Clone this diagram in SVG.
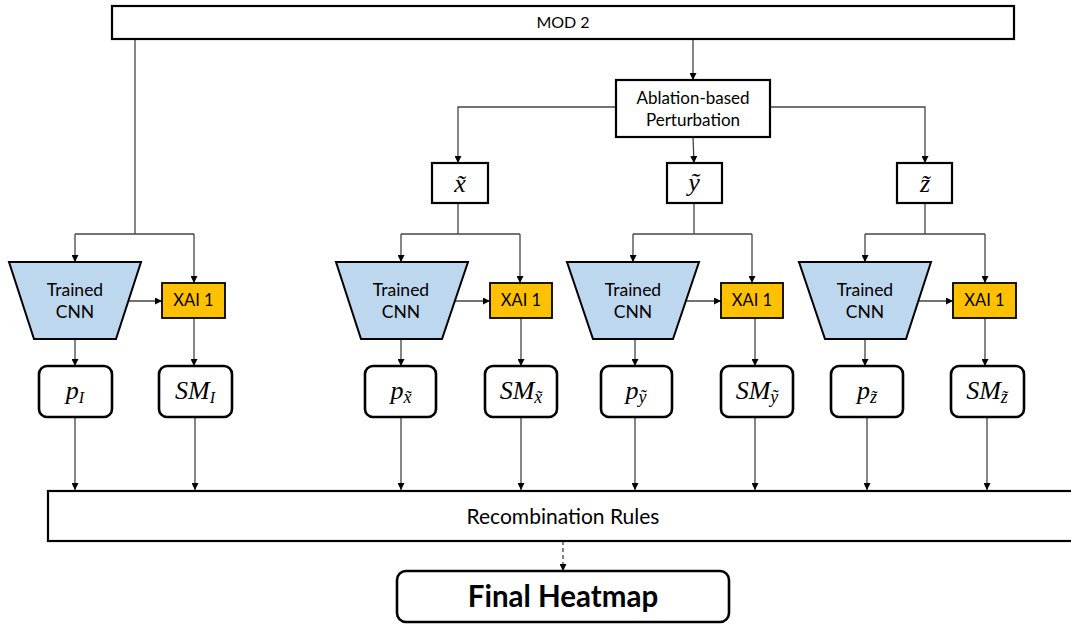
<svg xmlns="http://www.w3.org/2000/svg" width="1071" height="625" viewBox="0 0 1071 625">
<defs>
<marker id="ah" viewBox="0 0 10 10" refX="10" refY="5" markerWidth="7" markerHeight="7" markerUnits="userSpaceOnUse" orient="auto">
<path d="M0,0 L10,5 L0,10 z" fill="#000"/>
</marker>
<style>
.box{fill:#fff;stroke:#000;stroke-width:2.2}
.rbox{fill:#fff;stroke:#000;stroke-width:2.6}
.trap{fill:#BDD7EE;stroke:#000;stroke-width:2}
.xai{fill:#FFC000;stroke:#000;stroke-width:1.8}
.lbl{font-family:Lato,"Open Sans","Liberation Sans",sans-serif;fill:#000;text-anchor:middle}
.cnn{font-size:17.5px}
.math{font-family:"Liberation Serif","DejaVu Serif",serif;font-style:italic;fill:#000;text-anchor:middle;font-size:26px}
.sub{font-size:16px}
.subt{font-size:18px}
.c{fill:none;stroke:#444;stroke-width:1.3}
.a{fill:none;stroke:#444;stroke-width:1.3;marker-end:url(#ah)}
</style>
</defs>
<rect width="1071" height="625" fill="#fff"/>

<g id="connectors">
<path class="c" d="M135,39 V234"/>
<path class="c" d="M75,234 H194"/>
<path class="a" d="M75,234 V262"/>
<path class="a" d="M194,234 V283"/>
<path class="a" d="M693,39 V80"/>
<path class="a" d="M616,107 H458 V163"/>
<path class="a" d="M770,107 H925 V163"/>
<path class="a" d="M693,137 L694,163"/>
<path class="c" d="M458,203 V234"/>
<path class="c" d="M401,234 H520"/>
<path class="a" d="M401,234 V262"/>
<path class="a" d="M520,234 V283"/>
<path class="c" d="M694,203 V234"/>
<path class="c" d="M633,234 H752"/>
<path class="a" d="M633,234 V262"/>
<path class="a" d="M752,234 V283"/>
<path class="c" d="M925,203 V234"/>
<path class="c" d="M865,234 H985"/>
<path class="a" d="M865,234 V262"/>
<path class="a" d="M985,234 V283"/>
<path class="a" d="M129,301 H162"/>
<path class="a" d="M455,301 H490"/>
<path class="a" d="M686,301 H721"/>
<path class="a" d="M918,301 H953"/>
<path class="a" d="M75,339 V366"/>
<path class="a" d="M401,339 V366"/>
<path class="a" d="M635,339 V366"/>
<path class="a" d="M865,339 V366"/>
<path class="a" d="M194,318 V366"/>
<path class="a" d="M521,318 V366"/>
<path class="a" d="M755,318 V366"/>
<path class="a" d="M985,318 V366"/>
<path class="a" d="M75,417 V490"/>
<path class="a" d="M195,417 V490"/>
<path class="a" d="M401,417 V490"/>
<path class="a" d="M521,417 V490"/>
<path class="a" d="M635,417 V490"/>
<path class="a" d="M755,417 V490"/>
<path class="a" d="M867,417 V490"/>
<path class="a" d="M987,417 V490"/>
<path class="a" d="M563,541 V571" stroke-dasharray="4,3"/>
</g>

<g id="mod2">
<rect class="box" x="112" y="6" width="902" height="33"/>
<text class="lbl" x="563" y="28" font-size="16">MOD 2</text>
</g>

<g id="ablation">
<rect class="box" x="616" y="80" width="154" height="57"/>
<text class="lbl" x="693" y="104" font-size="17">Ablation-based</text>
<text class="lbl" x="693" y="126" font-size="17">Perturbation</text>
</g>

<g id="xtilde">
<rect class="box" x="432" y="163" width="56" height="40"/>
<text class="math" x="460" y="192" font-size="24">x̃</text>
</g>
<g id="ytilde">
<rect class="box" x="667" y="163" width="55" height="40"/>
<text class="math" x="694" y="191" font-size="24">ỹ</text>
</g>
<g id="ztilde">
<rect class="box" x="897" y="163" width="55" height="40"/>
<text class="math" x="925" y="192" font-size="24">z̃</text>
</g>

<g id="cnn1">
<path class="trap" d="M9,262 H141 L116,339 H34 Z"/>
<text class="lbl cnn" x="75" y="296">Trained</text>
<text class="lbl cnn" x="75" y="318">CNN</text>
</g>
<g id="xai1">
<rect class="xai" x="162" y="283" width="63" height="35"/>
<text class="lbl" x="193.5" y="306" font-size="16.5">XAI 1</text>
</g>
<g id="p1">
<rect class="rbox" x="39" y="366" width="73" height="51" rx="8"/>
<text class="math" x="75" y="399">p<tspan class="sub" dy="4">I</tspan></text>
</g>
<g id="sm1">
<rect class="rbox" x="159" y="366" width="73" height="51" rx="8"/>
<text class="math" x="195" y="399">SM<tspan class="sub" dy="4">I</tspan></text>
</g>

<g id="cnn2">
<path class="trap" d="M336,262 H468 L442,339 H361 Z"/>
<text class="lbl cnn" x="401" y="296">Trained</text>
<text class="lbl cnn" x="401" y="318">CNN</text>
</g>
<g id="xai2">
<rect class="xai" x="490" y="283" width="62" height="35"/>
<text class="lbl" x="521" y="306" font-size="16.5">XAI 1</text>
</g>
<g id="p2">
<rect class="rbox" x="365" y="366" width="71" height="51" rx="8"/>
<text class="math" x="401" y="399">p<tspan class="subt" dy="4">x̃</tspan></text>
</g>
<g id="sm2">
<rect class="rbox" x="485" y="366" width="72" height="51" rx="8"/>
<text class="math" x="521" y="399">SM<tspan class="subt" dy="4">x̃</tspan></text>
</g>

<g id="cnn3">
<path class="trap" d="M567,262 H699 L673,339 H593 Z"/>
<text class="lbl cnn" x="633" y="296">Trained</text>
<text class="lbl cnn" x="633" y="318">CNN</text>
</g>
<g id="xai3">
<rect class="xai" x="721" y="283" width="62" height="35"/>
<text class="lbl" x="752" y="306" font-size="16.5">XAI 1</text>
</g>
<g id="p3">
<rect class="rbox" x="601" y="366" width="71" height="51" rx="8"/>
<text class="math" x="636" y="399">p<tspan class="subt" dy="4">ỹ</tspan></text>
</g>
<g id="sm3">
<rect class="rbox" x="721" y="366" width="72" height="51" rx="8"/>
<text class="math" x="757" y="399">SM<tspan class="subt" dy="4">ỹ</tspan></text>
</g>

<g id="cnn4">
<path class="trap" d="M799,262 H931 L906,339 H825 Z"/>
<text class="lbl cnn" x="865" y="296">Trained</text>
<text class="lbl cnn" x="865" y="318">CNN</text>
</g>
<g id="xai4">
<rect class="xai" x="953" y="283" width="63" height="35"/>
<text class="lbl" x="984.5" y="306" font-size="16.5">XAI 1</text>
</g>
<g id="p4">
<rect class="rbox" x="831" y="366" width="72" height="51" rx="8"/>
<text class="math" x="867" y="399">p<tspan class="subt" dy="4">z̃</tspan></text>
</g>
<g id="sm4">
<rect class="rbox" x="951" y="366" width="73" height="51" rx="8"/>
<text class="math" x="987" y="399">SM<tspan class="subt" dy="4">z̃</tspan></text>
</g>

<g id="recombination">
<rect class="box" x="48" y="491" width="1030" height="50"/>
<text class="lbl" x="563" y="524" font-size="21">Recombination Rules</text>
</g>

<g id="final">
<rect class="rbox" x="397" y="571" width="332" height="51" rx="9"/>
<text class="lbl" x="563" y="607" font-size="29.5" font-weight="bold">Final Heatmap</text>
</g>
</svg>
